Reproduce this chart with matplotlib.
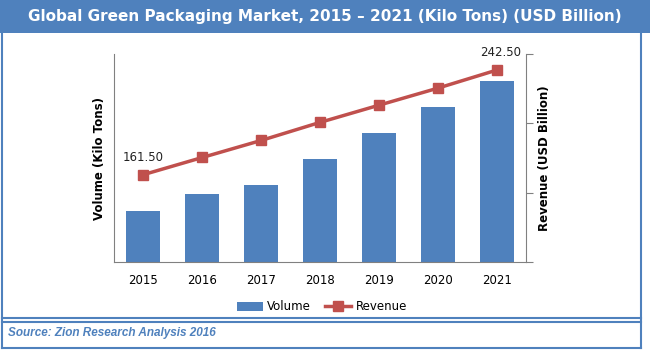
import numpy as np
import matplotlib.pyplot as plt
from matplotlib.lines import Line2D
from matplotlib.patches import Rectangle

# dados
years = ['2015', '2016', '2017', '2018', '2019', '2020', '2021']
volume = [51, 68, 77, 103, 129, 155, 181]          # escala relativa (sem rotulos no eixo)
revenue = [161.5, 174.8, 188.0, 202.0, 215.3, 228.5, 242.5]
labels_shown = {0: '161.50', 6: '242.50'}

blue = '#4F81BD'
red = '#C0504D'

fig = plt.figure(figsize=(6.5, 3.5), dpi=100)

# barra do titulo
fig.patches.append(Rectangle((0, 1 - 33/350), 1, 33/350, transform=fig.transFigure,
                             facecolor=blue, edgecolor='none', zorder=0))
fig.text(0.5, 1 - 17/350, 'Global Green Packaging Market, 2015 \u2013 2021 (Kilo Tons) (USD Billion)',
         ha='center', va='center', color='white', fontsize=11, fontweight='bold')

# bordas
def fline(x0, y0, x1, y1, lw=1.5):
    fig.add_artist(Line2D([x0/650, x1/650], [1 - y0/350, 1 - y1/350], color=blue, lw=lw))

fline(2, 33, 2, 348)
fline(641, 33, 641, 348)
fline(2, 348, 641, 348)
fline(2, 318, 641, 318)
fline(2, 322, 641, 322)

ax = fig.add_axes([114/650, 1 - 262/350, 412/650, 208/350])
x = np.arange(len(years))
ax.bar(x, volume, width=0.58, color=blue, label='Volume', zorder=2)
ax.set_xlim(-0.5, len(years) - 0.5)
ax.set_ylim(0, 208)
ax.set_xticks(x)
ax.set_xticklabels(years, fontsize=8.5)
ax.tick_params(axis='x', length=0, pad=9)
ax.set_yticks([])
ax.set_ylabel('Volume (Kilo Tons)', fontsize=8.5, fontweight='bold', labelpad=6)
for s in ['top', 'right']:
    ax.spines[s].set_visible(False)
for s in ['left', 'bottom']:
    ax.spines[s].set_color('#808080')

ax2 = ax.twinx()
ax2.plot(x, revenue, color=red, lw=2.5, marker='s', markersize=7, label='Revenue', zorder=3)
ax2.set_ylim(93.8, 255.0)
ax2.set_yticks(np.linspace(93.8, 255.0, 4))
ax2.set_yticklabels([])
ax2.tick_params(axis='y', length=5, color='#808080')
ax2.set_ylabel('Revenue (USD Billion)', fontsize=8.5, fontweight='bold', labelpad=0)
for s in ['top', 'left', 'bottom']:
    ax2.spines[s].set_visible(False)
ax2.spines['right'].set_color('#808080')

for i, txt in labels_shown.items():
    ax2.annotate(txt, (x[i], revenue[i]), xytext=(3 if i == 6 else 0, 10),
                 textcoords='offset points', ha='center', fontsize=8.5, color='#222222')

h1, l1 = ax.get_legend_handles_labels()
h2, l2 = ax2.get_legend_handles_labels()
fig.legend(h1 + h2, l1 + l2, loc='center', bbox_to_anchor=(322/650, 1 - 307/350),
           ncol=2, frameon=False, fontsize=8.5, handlelength=2.2, columnspacing=1.2,
           handletextpad=0.4)

fig.text(8/650, 1 - 333/350, 'Source: Zion Research Analysis 2016', ha='left', va='center',
         color=blue, fontsize=8.5, style='italic', fontweight='bold',
         family=['Liberation Sans', 'DejaVu Sans'])

fig.savefig('out.png', dpi=100)
